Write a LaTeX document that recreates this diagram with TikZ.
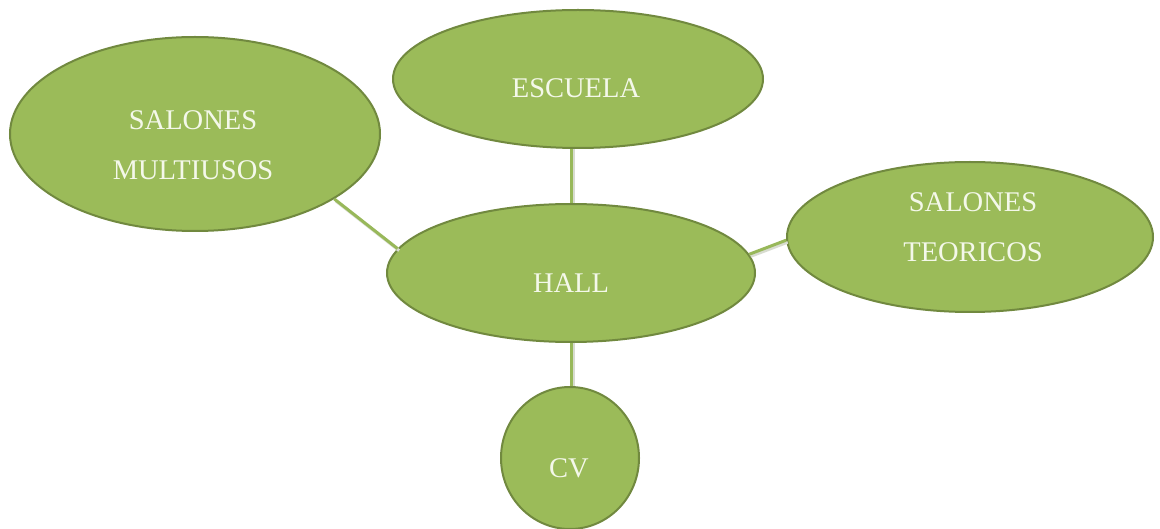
\documentclass[tikz,border=0pt]{standalone}
\usepackage{fontspec}
\setmainfont{Liberation Serif}
\usetikzlibrary{shapes.geometric}
\definecolor{fillg}{HTML}{9BBB59}
\definecolor{edgeg}{HTML}{71893F}
\definecolor{lineg}{HTML}{98B85A}
\definecolor{shad}{HTML}{D8DCD0}
\definecolor{txtc}{HTML}{F4F8EA}
\begin{document}
\begin{tikzpicture}[x=1pt,y=-1pt,
  blob/.style={ellipse,draw=edgeg,fill=fillg,line width=2pt,inner sep=0pt},
  lbl/.style={text=txtc,font=\fontsize{28.5}{50}\selectfont,anchor=base,inner sep=0pt},
  conn/.style={draw=lineg,line width=3pt},
  connsh/.style={draw=shad,line width=3pt}]
\useasboundingbox[fill=white] (0,0) rectangle (1160,529);
\node[blob,minimum width=370pt,minimum height=194pt] (m) at (195,134) {};
\node[blob,minimum width=370pt,minimum height=138pt] (e) at (578,79) {};
\node[blob,minimum width=366pt,minimum height=150pt] (t) at (970,237) {};
\node[blob,minimum width=368pt,minimum height=138pt] (h) at (571,273) {};
\node[blob,minimum width=138pt,minimum height=142pt] (c) at (570,458) {};
% connectors
\draw[connsh] ([shift={(1.5,2)}]m.-25) -- ([shift={(1.5,2)}]h.172.6);
\draw[connsh] ([shift={(2,0)}]h.north) -- ([shift={(2,0)}]h.north |- e.south);
\draw[connsh] ([shift={(1.5,2)}]h.6.9) -- ([shift={(1.5,2)}]t.181.6);
\draw[connsh] ([shift={(2,0)}]h.south) -- ([shift={(2,0)}]h.south |- c.north);
\draw[conn] (m.-25) -- (h.172.6);
\draw[conn] (h.north) -- (h.north |- e.south);
\draw[conn] (h.6.9) -- (t.181.6);
\draw[conn] (h.south) -- (h.south |- c.north);
% labels
\node[lbl] (m1) at (193,130) {SALONES};
\node[lbl] (m2) at (193,180) {MULTIUSOS};
\node[lbl] (e1) at (576,98) {ESCUELA};
\node[lbl] (t1) at (973,212) {SALONES};
\node[lbl] (t2) at (973,262) {TEORICOS};
\node[lbl] (h1) at (571,293) {HALL};
\node[lbl] (c1) at (569,477) {CV};
\end{tikzpicture}
\end{document}
